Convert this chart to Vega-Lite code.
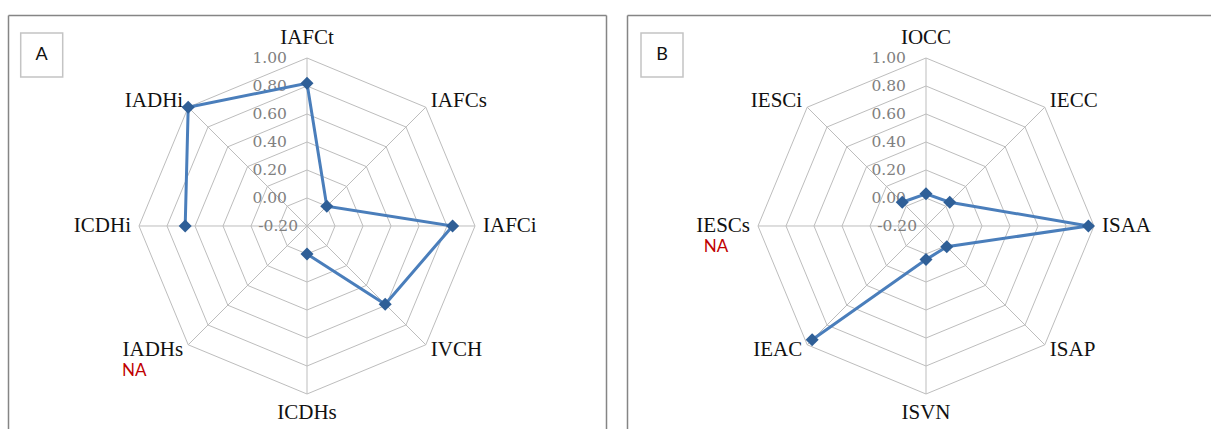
{
  "$schema": "https://vega.github.io/schema/vega-lite/v6.json",
  "padding": {"left": 8, "top": 15, "right": 0, "bottom": 0},
  "spacing": 21,
  "config": {"view": {"stroke": null}},
  "datasets": {
    "A": [
      {"k": 0, "cat": "IAFCt", "value": 0.82},
      {"k": 1, "cat": "IAFCs", "value": 0.0},
      {"k": 2, "cat": "IAFCi", "value": 0.84},
      {"k": 3, "cat": "IVCH", "value": 0.59},
      {"k": 4, "cat": "ICDHs", "value": 0.0},
      {"k": 5, "cat": "IADHs", "value": null},
      {"k": 6, "cat": "ICDHi", "value": 0.67},
      {"k": 7, "cat": "IADHi", "value": 1.0}
    ],
    "B": [
      {"k": 0, "cat": "IOCC", "value": 0.03},
      {"k": 1, "cat": "IECC", "value": 0.04},
      {"k": 2, "cat": "ISAA", "value": 0.96},
      {"k": 3, "cat": "ISAP", "value": 0.01},
      {"k": 4, "cat": "ISVN", "value": 0.04},
      {"k": 5, "cat": "IEAC", "value": 0.95},
      {"k": 6, "cat": "IESCs", "value": null},
      {"k": 7, "cat": "IESCi", "value": 0.04}
    ],
    "rings": [
      {"ring": 0.0, "ks": [0, 1, 2, 3, 4, 5, 6, 7, 8]},
      {"ring": 0.2, "ks": [0, 1, 2, 3, 4, 5, 6, 7, 8]},
      {"ring": 0.4, "ks": [0, 1, 2, 3, 4, 5, 6, 7, 8]},
      {"ring": 0.6, "ks": [0, 1, 2, 3, 4, 5, 6, 7, 8]},
      {"ring": 0.8, "ks": [0, 1, 2, 3, 4, 5, 6, 7, 8]},
      {"ring": 1.0, "ks": [0, 1, 2, 3, 4, 5, 6, 7, 8]}
    ],
    "ticks": [
      {"t": -0.2}, {"t": 0.0}, {"t": 0.2}, {"t": 0.4}, {"t": 0.6}, {"t": 0.8}, {"t": 1.0}
    ]
  },
  "hconcat": [
    {
      "width": 598,
      "height": 414,
      "resolve": {"axis": {"x": "independent", "y": "independent"}},
      "layer": [
        {
          "data": {"name": "rings"},
          "transform": [
            {"flatten": ["ks"], "as": ["k"]},
            {"calculate": "(datum.ring+0.2)*sin(datum.k*PI/4)", "as": "gx"},
            {"calculate": "(datum.ring+0.2)*cos(datum.k*PI/4)", "as": "gy"}
          ],
          "mark": {"type": "line", "color": "#bdbdbd", "strokeWidth": 1, "clip": false},
          "encoding": {
            "x": {"field": "gx", "type": "quantitative", "scale": {"domain": [-2.13571, 2.13571], "nice": false, "zero": false},
                  "axis": {"orient": "top", "domain": true, "domainColor": "#858585", "domainWidth": 1.5, "ticks": false, "labels": false, "grid": false, "title": null}},
            "y": {"field": "gy", "type": "quantitative", "scale": {"domain": [-1.45, 1.50714], "nice": false, "zero": false},
                  "axis": {"orient": "left", "domain": true, "domainColor": "#858585", "domainWidth": 1.5, "ticks": false, "labels": false, "grid": false, "title": null}},
            "detail": {"field": "ring"},
            "order": {"field": "k"}
          }
        },
        {
          "data": {"name": "A"},
          "transform": [
            {"calculate": "0", "as": "o"},
            {"calculate": "1.2*sin(datum.k*PI/4)", "as": "sx"},
            {"calculate": "1.2*cos(datum.k*PI/4)", "as": "sy"}
          ],
          "mark": {"type": "rule", "color": "#bdbdbd", "strokeWidth": 1},
          "encoding": {
            "x": {"field": "o", "type": "quantitative", "scale": {"domain": [-2.13571, 2.13571], "nice": false, "zero": false}, "axis": null},
            "y": {"field": "o", "type": "quantitative", "scale": {"domain": [-1.45, 1.50714], "nice": false, "zero": false},
                  "axis": {"orient": "right", "domain": true, "domainColor": "#858585", "domainWidth": 1.5, "ticks": false, "labels": false, "grid": false, "title": null}},
            "x2": {"field": "sx"},
            "y2": {"field": "sy"}
          }
        },
        {
          "data": {"name": "ticks"},
          "transform": [
            {"calculate": "replace(format(datum.t, '.2f'), '\u2212', '-')", "as": "tl"},
            {"calculate": "datum.t < -0.1 ? -0.064 : -0.143", "as": "tx"},
            {"calculate": "datum.t + 0.2", "as": "ty"}
          ],
          "mark": {"type": "text", "align": "right", "baseline": "middle", "font": "DejaVu Serif", "fontSize": 15.5, "color": "#808080"},
          "encoding": {
            "x": {"field": "tx", "type": "quantitative", "scale": {"domain": [-2.13571, 2.13571], "nice": false, "zero": false}, "axis": null},
            "y": {"field": "ty", "type": "quantitative", "scale": {"domain": [-1.45, 1.50714], "nice": false, "zero": false}, "axis": null},
            "text": {"field": "tl"}
          }
        },
        {
          "data": {"name": "A"},
          "transform": [
            {"filter": "datum.value != null"},
            {"calculate": "(datum.value+0.2)*sin(datum.k*PI/4)", "as": "px"},
            {"calculate": "(datum.value+0.2)*cos(datum.k*PI/4)", "as": "py"},
            {"calculate": "(datum.k+2)%8", "as": "ord"}
          ],
          "mark": {"type": "line", "color": "#4a7ebb", "strokeWidth": 3},
          "encoding": {
            "x": {"field": "px", "type": "quantitative", "scale": {"domain": [-2.13571, 2.13571], "nice": false, "zero": false}, "axis": null},
            "y": {"field": "py", "type": "quantitative", "scale": {"domain": [-1.45, 1.50714], "nice": false, "zero": false}, "axis": null},
            "order": {"field": "ord"}
          }
        },
        {
          "data": {"name": "A"},
          "transform": [
            {"filter": "datum.value != null"},
            {"calculate": "(datum.value+0.2)*sin(datum.k*PI/4)", "as": "px"},
            {"calculate": "(datum.value+0.2)*cos(datum.k*PI/4)", "as": "py"}
          ],
          "mark": {"type": "point", "shape": "diamond", "filled": true, "size": 170, "color": "#2f5f97", "opacity": 1},
          "encoding": {
            "x": {"field": "px", "type": "quantitative", "scale": {"domain": [-2.13571, 2.13571], "nice": false, "zero": false}, "axis": null},
            "y": {"field": "py", "type": "quantitative", "scale": {"domain": [-1.45, 1.50714], "nice": false, "zero": false}, "axis": null}
          }
        },
        {
          "data": {"name": "A"},
          "transform": [
            {"calculate": "sin(datum.k*PI/4)", "as": "s"},
            {"calculate": "cos(datum.k*PI/4)", "as": "c"},
            {"calculate": "abs(datum.s)<0.1 ? 0 : abs(datum.c)<0.1 ? (datum.s>0?1.257:-1.257) : 1.2*datum.s+(datum.s>0?0.036:-0.036)", "as": "lx"},
            {"calculate": "abs(datum.c)>0.9 ? (datum.c>0?1.346:-1.335) : abs(datum.c)<0.1 ? 0 : 1.2*datum.c+(datum.c>0?0.043:-0.04)", "as": "ly"},
            {"filter": "datum.k>=1 && datum.k<=3"}
          ],
          "mark": {"type": "text", "align": "left", "baseline": "middle", "font": "Liberation Serif", "fontSize": 21, "color": "#111111"},
          "encoding": {
            "x": {"field": "lx", "type": "quantitative", "scale": {"domain": [-2.13571, 2.13571], "nice": false, "zero": false}, "axis": null},
            "y": {"field": "ly", "type": "quantitative", "scale": {"domain": [-1.45, 1.50714], "nice": false, "zero": false}, "axis": null},
            "text": {"field": "cat"}
          }
        },
        {
          "data": {"name": "A"},
          "transform": [
            {"calculate": "sin(datum.k*PI/4)", "as": "s"},
            {"calculate": "cos(datum.k*PI/4)", "as": "c"},
            {"calculate": "abs(datum.s)<0.1 ? 0 : abs(datum.c)<0.1 ? (datum.s>0?1.257:-1.257) : 1.2*datum.s+(datum.s>0?0.036:-0.036)", "as": "lx"},
            {"calculate": "abs(datum.c)>0.9 ? (datum.c>0?1.346:-1.335) : abs(datum.c)<0.1 ? 0 : 1.2*datum.c+(datum.c>0?0.043:-0.04)", "as": "ly"},
            {"filter": "datum.k==0 || datum.k==4"}
          ],
          "mark": {"type": "text", "align": "center", "baseline": "middle", "font": "Liberation Serif", "fontSize": 21, "color": "#111111"},
          "encoding": {
            "x": {"field": "lx", "type": "quantitative", "scale": {"domain": [-2.13571, 2.13571], "nice": false, "zero": false}, "axis": null},
            "y": {"field": "ly", "type": "quantitative", "scale": {"domain": [-1.45, 1.50714], "nice": false, "zero": false}, "axis": null},
            "text": {"field": "cat"}
          }
        },
        {
          "data": {"name": "A"},
          "transform": [
            {"calculate": "sin(datum.k*PI/4)", "as": "s"},
            {"calculate": "cos(datum.k*PI/4)", "as": "c"},
            {"calculate": "abs(datum.s)<0.1 ? 0 : abs(datum.c)<0.1 ? (datum.s>0?1.257:-1.257) : 1.2*datum.s+(datum.s>0?0.036:-0.036)", "as": "lx"},
            {"calculate": "abs(datum.c)>0.9 ? (datum.c>0?1.346:-1.335) : abs(datum.c)<0.1 ? 0 : 1.2*datum.c+(datum.c>0?0.043:-0.04)", "as": "ly"},
            {"filter": "datum.k>=5"}
          ],
          "mark": {"type": "text", "align": "right", "baseline": "middle", "font": "Liberation Serif", "fontSize": 21, "color": "#111111"},
          "encoding": {
            "x": {"field": "lx", "type": "quantitative", "scale": {"domain": [-2.13571, 2.13571], "nice": false, "zero": false}, "axis": null},
            "y": {"field": "ly", "type": "quantitative", "scale": {"domain": [-1.45, 1.50714], "nice": false, "zero": false}, "axis": null},
            "text": {"field": "cat"}
          }
        },
        {
          "data": {"name": "A"},
          "transform": [
            {"filter": "datum.value == null"},
            {"calculate": "sin(datum.k*PI/4)", "as": "s"},
            {"calculate": "cos(datum.k*PI/4)", "as": "c"},
            {"calculate": "abs(datum.s)<0.1 ? 0 : abs(datum.c)<0.1 ? (datum.s>0?1.257:-1.257) : 1.2*datum.s+(datum.s>0?0.036:-0.036)", "as": "lx"},
            {"calculate": "abs(datum.c)>0.9 ? (datum.c>0?1.346:-1.335) : abs(datum.c)<0.1 ? 0 : 1.2*datum.c+(datum.c>0?0.043:-0.04)", "as": "ly"}
          ],
          "mark": {"type": "text", "align": "center", "baseline": "middle", "font": "Lato", "fontSize": 17, "color": "#c00000", "dx": -49, "dy": 21},
          "encoding": {
            "x": {"field": "lx", "type": "quantitative", "scale": {"domain": [-2.13571, 2.13571], "nice": false, "zero": false}, "axis": null},
            "y": {"field": "ly", "type": "quantitative", "scale": {"domain": [-1.45, 1.50714], "nice": false, "zero": false}, "axis": null},
            "text": {"value": "NA"}
          }
        },
        {
          "data": {"values": [{"panel": "A"}]},
          "mark": {"type": "rect", "fill": "#ffffff", "stroke": "#c4c4c4", "strokeWidth": 1.5},
          "encoding": {
            "x": {"datum": -2.045, "type": "quantitative", "scale": {"domain": [-2.13571, 2.13571], "nice": false, "zero": false}, "axis": null},
            "x2": {"datum": -1.745},
            "y": {"datum": 1.3786, "type": "quantitative", "scale": {"domain": [-1.45, 1.50714], "nice": false, "zero": false}, "axis": null},
            "y2": {"datum": 1.0643}
          }
        },
        {
          "data": {"values": [{"panel": "A"}]},
          "mark": {"type": "text", "align": "center", "baseline": "middle", "font": "Lato", "fontSize": 18, "color": "#111111"},
          "encoding": {
            "x": {"datum": -1.895, "type": "quantitative", "scale": {"domain": [-2.13571, 2.13571], "nice": false, "zero": false}, "axis": null},
            "y": {"datum": 1.221, "type": "quantitative", "scale": {"domain": [-1.45, 1.50714], "nice": false, "zero": false}, "axis": null},
            "text": {"field": "panel"}
          }
        }
      ]
    },
    {
      "width": 584,
      "height": 414,
      "resolve": {"axis": {"x": "independent", "y": "independent"}},
      "layer": [
        {
          "data": {"name": "rings"},
          "transform": [
            {"flatten": ["ks"], "as": ["k"]},
            {"calculate": "(datum.ring+0.2)*sin(datum.k*PI/4)", "as": "gx"},
            {"calculate": "(datum.ring+0.2)*cos(datum.k*PI/4)", "as": "gy"}
          ],
          "mark": {"type": "line", "color": "#bdbdbd", "strokeWidth": 1, "clip": false},
          "encoding": {
            "x": {"field": "gx", "type": "quantitative", "scale": {"domain": [-2.13571, 2.03571], "nice": false, "zero": false},
                  "axis": {"orient": "top", "domain": true, "domainColor": "#858585", "domainWidth": 1.5, "ticks": false, "labels": false, "grid": false, "title": null}},
            "y": {"field": "gy", "type": "quantitative", "scale": {"domain": [-1.45, 1.50714], "nice": false, "zero": false},
                  "axis": {"orient": "left", "domain": true, "domainColor": "#858585", "domainWidth": 1.5, "ticks": false, "labels": false, "grid": false, "title": null}},
            "detail": {"field": "ring"},
            "order": {"field": "k"}
          }
        },
        {
          "data": {"name": "B"},
          "transform": [
            {"calculate": "0", "as": "o"},
            {"calculate": "1.2*sin(datum.k*PI/4)", "as": "sx"},
            {"calculate": "1.2*cos(datum.k*PI/4)", "as": "sy"}
          ],
          "mark": {"type": "rule", "color": "#bdbdbd", "strokeWidth": 1},
          "encoding": {
            "x": {"field": "o", "type": "quantitative", "scale": {"domain": [-2.13571, 2.03571], "nice": false, "zero": false}, "axis": null},
            "y": {"field": "o", "type": "quantitative", "scale": {"domain": [-1.45, 1.50714], "nice": false, "zero": false}, "axis": null},
            "x2": {"field": "sx"},
            "y2": {"field": "sy"}
          }
        },
        {
          "data": {"name": "ticks"},
          "transform": [
            {"calculate": "replace(format(datum.t, '.2f'), '\u2212', '-')", "as": "tl"},
            {"calculate": "datum.t < -0.1 ? -0.064 : -0.143", "as": "tx"},
            {"calculate": "datum.t + 0.2", "as": "ty"}
          ],
          "mark": {"type": "text", "align": "right", "baseline": "middle", "font": "DejaVu Serif", "fontSize": 15.5, "color": "#808080"},
          "encoding": {
            "x": {"field": "tx", "type": "quantitative", "scale": {"domain": [-2.13571, 2.03571], "nice": false, "zero": false}, "axis": null},
            "y": {"field": "ty", "type": "quantitative", "scale": {"domain": [-1.45, 1.50714], "nice": false, "zero": false}, "axis": null},
            "text": {"field": "tl"}
          }
        },
        {
          "data": {"name": "B"},
          "transform": [
            {"filter": "datum.value != null"},
            {"calculate": "(datum.value+0.2)*sin(datum.k*PI/4)", "as": "px"},
            {"calculate": "(datum.value+0.2)*cos(datum.k*PI/4)", "as": "py"},
            {"calculate": "(datum.k+1)%8", "as": "ord"}
          ],
          "mark": {"type": "line", "color": "#4a7ebb", "strokeWidth": 3},
          "encoding": {
            "x": {"field": "px", "type": "quantitative", "scale": {"domain": [-2.13571, 2.03571], "nice": false, "zero": false}, "axis": null},
            "y": {"field": "py", "type": "quantitative", "scale": {"domain": [-1.45, 1.50714], "nice": false, "zero": false}, "axis": null},
            "order": {"field": "ord"}
          }
        },
        {
          "data": {"name": "B"},
          "transform": [
            {"filter": "datum.value != null"},
            {"calculate": "(datum.value+0.2)*sin(datum.k*PI/4)", "as": "px"},
            {"calculate": "(datum.value+0.2)*cos(datum.k*PI/4)", "as": "py"}
          ],
          "mark": {"type": "point", "shape": "diamond", "filled": true, "size": 170, "color": "#2f5f97", "opacity": 1},
          "encoding": {
            "x": {"field": "px", "type": "quantitative", "scale": {"domain": [-2.13571, 2.03571], "nice": false, "zero": false}, "axis": null},
            "y": {"field": "py", "type": "quantitative", "scale": {"domain": [-1.45, 1.50714], "nice": false, "zero": false}, "axis": null}
          }
        },
        {
          "data": {"name": "B"},
          "transform": [
            {"calculate": "sin(datum.k*PI/4)", "as": "s"},
            {"calculate": "cos(datum.k*PI/4)", "as": "c"},
            {"calculate": "abs(datum.s)<0.1 ? 0 : abs(datum.c)<0.1 ? (datum.s>0?1.257:-1.257) : 1.2*datum.s+(datum.s>0?0.036:-0.036)", "as": "lx"},
            {"calculate": "abs(datum.c)>0.9 ? (datum.c>0?1.346:-1.335) : abs(datum.c)<0.1 ? 0 : 1.2*datum.c+(datum.c>0?0.043:-0.04)", "as": "ly"},
            {"filter": "datum.k>=1 && datum.k<=3"}
          ],
          "mark": {"type": "text", "align": "left", "baseline": "middle", "font": "Liberation Serif", "fontSize": 21, "color": "#111111"},
          "encoding": {
            "x": {"field": "lx", "type": "quantitative", "scale": {"domain": [-2.13571, 2.03571], "nice": false, "zero": false}, "axis": null},
            "y": {"field": "ly", "type": "quantitative", "scale": {"domain": [-1.45, 1.50714], "nice": false, "zero": false}, "axis": null},
            "text": {"field": "cat"}
          }
        },
        {
          "data": {"name": "B"},
          "transform": [
            {"calculate": "sin(datum.k*PI/4)", "as": "s"},
            {"calculate": "cos(datum.k*PI/4)", "as": "c"},
            {"calculate": "abs(datum.s)<0.1 ? 0 : abs(datum.c)<0.1 ? (datum.s>0?1.257:-1.257) : 1.2*datum.s+(datum.s>0?0.036:-0.036)", "as": "lx"},
            {"calculate": "abs(datum.c)>0.9 ? (datum.c>0?1.346:-1.335) : abs(datum.c)<0.1 ? 0 : 1.2*datum.c+(datum.c>0?0.043:-0.04)", "as": "ly"},
            {"filter": "datum.k==0 || datum.k==4"}
          ],
          "mark": {"type": "text", "align": "center", "baseline": "middle", "font": "Liberation Serif", "fontSize": 21, "color": "#111111"},
          "encoding": {
            "x": {"field": "lx", "type": "quantitative", "scale": {"domain": [-2.13571, 2.03571], "nice": false, "zero": false}, "axis": null},
            "y": {"field": "ly", "type": "quantitative", "scale": {"domain": [-1.45, 1.50714], "nice": false, "zero": false}, "axis": null},
            "text": {"field": "cat"}
          }
        },
        {
          "data": {"name": "B"},
          "transform": [
            {"calculate": "sin(datum.k*PI/4)", "as": "s"},
            {"calculate": "cos(datum.k*PI/4)", "as": "c"},
            {"calculate": "abs(datum.s)<0.1 ? 0 : abs(datum.c)<0.1 ? (datum.s>0?1.257:-1.257) : 1.2*datum.s+(datum.s>0?0.036:-0.036)", "as": "lx"},
            {"calculate": "abs(datum.c)>0.9 ? (datum.c>0?1.346:-1.335) : abs(datum.c)<0.1 ? 0 : 1.2*datum.c+(datum.c>0?0.043:-0.04)", "as": "ly"},
            {"filter": "datum.k>=5"}
          ],
          "mark": {"type": "text", "align": "right", "baseline": "middle", "font": "Liberation Serif", "fontSize": 21, "color": "#111111"},
          "encoding": {
            "x": {"field": "lx", "type": "quantitative", "scale": {"domain": [-2.13571, 2.03571], "nice": false, "zero": false}, "axis": null},
            "y": {"field": "ly", "type": "quantitative", "scale": {"domain": [-1.45, 1.50714], "nice": false, "zero": false}, "axis": null},
            "text": {"field": "cat"}
          }
        },
        {
          "data": {"name": "B"},
          "transform": [
            {"filter": "datum.value == null"},
            {"calculate": "sin(datum.k*PI/4)", "as": "s"},
            {"calculate": "cos(datum.k*PI/4)", "as": "c"},
            {"calculate": "abs(datum.s)<0.1 ? 0 : abs(datum.c)<0.1 ? (datum.s>0?1.257:-1.257) : 1.2*datum.s+(datum.s>0?0.036:-0.036)", "as": "lx"},
            {"calculate": "abs(datum.c)>0.9 ? (datum.c>0?1.346:-1.335) : abs(datum.c)<0.1 ? 0 : 1.2*datum.c+(datum.c>0?0.043:-0.04)", "as": "ly"}
          ],
          "mark": {"type": "text", "align": "center", "baseline": "middle", "font": "Lato", "fontSize": 17, "color": "#c00000", "dx": -34, "dy": 21},
          "encoding": {
            "x": {"field": "lx", "type": "quantitative", "scale": {"domain": [-2.13571, 2.03571], "nice": false, "zero": false}, "axis": null},
            "y": {"field": "ly", "type": "quantitative", "scale": {"domain": [-1.45, 1.50714], "nice": false, "zero": false}, "axis": null},
            "text": {"value": "NA"}
          }
        },
        {
          "data": {"values": [{"panel": "B"}]},
          "mark": {"type": "rect", "fill": "#ffffff", "stroke": "#c4c4c4", "strokeWidth": 1.5},
          "encoding": {
            "x": {"datum": -2.0357, "type": "quantitative", "scale": {"domain": [-2.13571, 2.03571], "nice": false, "zero": false}, "axis": null},
            "x2": {"datum": -1.7357},
            "y": {"datum": 1.3786, "type": "quantitative", "scale": {"domain": [-1.45, 1.50714], "nice": false, "zero": false}, "axis": null},
            "y2": {"datum": 1.0643}
          }
        },
        {
          "data": {"values": [{"panel": "B"}]},
          "mark": {"type": "text", "align": "center", "baseline": "middle", "font": "Lato", "fontSize": 18, "color": "#111111"},
          "encoding": {
            "x": {"datum": -1.8857, "type": "quantitative", "scale": {"domain": [-2.13571, 2.03571], "nice": false, "zero": false}, "axis": null},
            "y": {"datum": 1.221, "type": "quantitative", "scale": {"domain": [-1.45, 1.50714], "nice": false, "zero": false}, "axis": null},
            "text": {"field": "panel"}
          }
        }
      ]
    }
  ]
}
